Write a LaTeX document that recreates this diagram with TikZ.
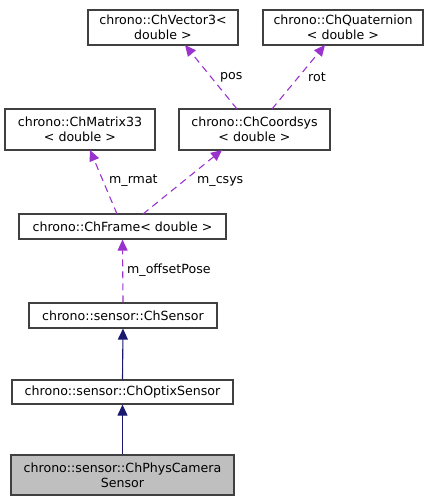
\documentclass[tikz,border=0pt]{standalone}
\usepackage{fontspec}
\setmainfont{DejaVu Sans}
\usetikzlibrary{arrows.meta}
\definecolor{dpurple}{HTML}{9A32CD}
\definecolor{dnavy}{HTML}{191970}
\definecolor{dgray}{HTML}{BFBFBF}
\definecolor{dborder}{HTML}{404040}
\begin{document}
\begin{tikzpicture}[x=1pt,y=-1pt,
  cls/.style={draw=dborder, line width=1.2pt, fill=white, inner sep=0pt, align=center, font=\fontsize{12.6}{14.8}\selectfont},
  use/.style={draw=dpurple, dashed, dash pattern=on 7pt off 5pt, line width=1.1pt, -{Triangle[length=11pt,width=10pt,fill=dpurple]}},
  inh/.style={draw=dnavy, line width=1.1pt, -{Triangle[length=11pt,width=10pt,fill=dnavy]}},
  lbl/.style={font=\fontsize{12.6}{14.8}\selectfont, inner sep=0pt, anchor=west}]
\useasboundingbox (0,0) rectangle (432,501);
\node[cls, minimum width=150pt, minimum height=35pt] (vec) at (163,27.5) {chrono::ChVector3<\\double >};
\node[cls, minimum width=160pt, minimum height=35pt] (quat) at (343,27.5) {chrono::ChQuaternion\\< double >};
\node[cls, minimum width=150pt, minimum height=41pt] (mat) at (80,129.5) {chrono::ChMatrix33\\< double >};
\node[cls, minimum width=151pt, minimum height=41pt] (csys) at (254.5,129.5) {chrono::ChCoordsys\\< double >};
\node[cls, minimum width=207pt, minimum height=25pt] (frame) at (122.5,226.5) {chrono::ChFrame< double >};
\node[cls, minimum width=188pt, minimum height=25pt] (sensor) at (123,315.5) {chrono::sensor::ChSensor};
\node[cls, minimum width=221pt, minimum height=24pt] (optix) at (122.5,392) {chrono::sensor::ChOptixSensor};
\node[cls, fill=dgray, minimum width=223pt, minimum height=40pt] (phys) at (122.5,475) {chrono::sensor::ChPhysCamera\\Sensor};
\coordinate (vecb) at (185,45);
\coordinate (csyst1) at (237,109);
\coordinate (quatb) at (325,45);
\coordinate (csyst2) at (272,109);
\coordinate (matb) at (90,150);
\coordinate (framet1) at (117,214);
\coordinate (csysb) at (222,150);
\coordinate (framet2) at (143,214);
\draw[use] (csyst1) -- (vecb);
\draw[use] (csyst2) -- (quatb);
\draw[use] (framet1) -- (matb);
\draw[use] (framet2) -- (csysb);
\draw[use] (sensor.north) -- (frame.south);
\draw[inh] (optix.north) -- (sensor.south);
\draw[inh] (phys.north) -- (optix.south);
\node[lbl] (lpos) at (220,77) {pos};
\node[lbl] (lrot) at (308,77) {rot};
\node[lbl] (lrmat) at (109,181) {m\_rmat};
\node[lbl] (lcsys) at (197,181) {m\_csys};
\node[lbl] (loff) at (127,270) {m\_offsetPose};
\end{tikzpicture}
\end{document}
